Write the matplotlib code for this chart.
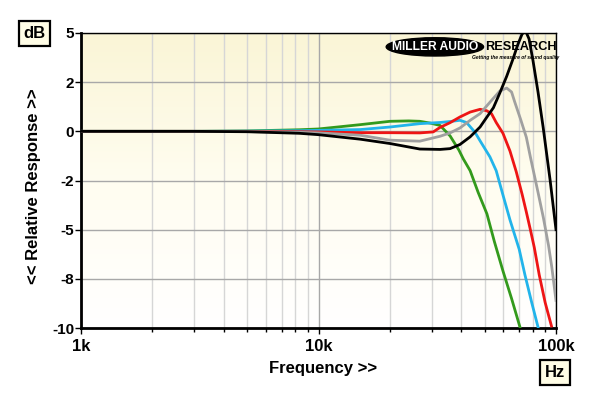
"""
Relative response vs frequency, five curves (Miller Audio Research style)
"""

import numpy as np
import matplotlib
matplotlib.use("Agg")
import matplotlib.pyplot as plt
from matplotlib.colors import LinearSegmentedColormap
from matplotlib.patches import Ellipse

plt.rcParams["font.family"] = ["Liberation Sans", "DejaVu Sans"]
plt.rcParams["font.weight"] = "bold"

# values (Hz, dB)
green_f = [1000, 3000, 5000, 8300, 10000, 15000, 20000, 24000, 26700, 29500,
           32500, 35800, 39000, 40700, 43500, 47000, 51200, 55000, 59800,
           65000, 70500]
green_db = [0, 0, 0.02, 0.08, 0.12, 0.34, 0.51, 0.53, 0.51, 0.42,
            0.3, -0.23, -0.95, -1.4, -2.0, -3.1, -4.2, -5.6, -7.1,
            -8.5, -9.95]

cyan_f = [1000, 3000, 5000, 8300, 10000, 15000, 20000, 26700, 32500, 35800,
          39400, 42000, 45600, 48000, 52700, 56000, 60000, 64000, 70000,
          74000, 79000, 84200]
cyan_db = [0, 0, 0.01, 0.03, 0.05, 0.09, 0.22, 0.39, 0.45, 0.5,
           0.56, 0.45, -0.05, -0.5, -1.3, -2.0, -3.3, -4.5, -6.0,
           -7.3, -8.7, -10]

red_f = [1000, 3000, 5000, 8300, 10000, 15000, 20000, 26700, 30400, 32500,
         35800, 39400, 43500, 47900, 51000, 53500, 56000, 59800, 64000,
         68000, 72000, 75000, 78000, 81000, 85000, 90000, 95700]
red_db = [0, 0, 0, -0.02, -0.03, -0.07, -0.07, -0.08, -0.03, 0.2,
          0.44, 0.73, 0.98, 1.12, 1.05, 0.9, 0.45, -0.1, -1.0,
          -2.05, -3.2, -4.1, -5.0, -5.9, -7.3, -8.7, -9.9]

gray_f = [1000, 3000, 5000, 8300, 10000, 15000, 20000, 26700, 32500, 35800,
          39400, 43500, 47900, 52700, 58000, 62000, 65000, 67000, 71000,
          75000, 78000, 84000, 88500, 93000, 96000, 100000]
gray_db = [0, 0, -0.01, -0.05, -0.08, -0.2, -0.45, -0.5, -0.25, -0.08,
           0.17, 0.56, 0.9, 1.48, 2.05, 2.2, 2.0, 1.5, 0.6,
           -0.3, -1.3, -3.1, -4.4, -5.8, -6.9, -8.6]

black_f = [1000, 3000, 5000, 8300, 10000, 15000, 20000, 26700, 32500, 35800,
           39400, 43500, 47900, 51000, 54500, 58000, 62000, 66000, 69000,
           72000, 74500, 77000, 80000, 84000, 88300, 94500, 100000]
black_db = [0, 0, -0.02, -0.1, -0.17, -0.4, -0.62, -0.9, -0.92, -0.88,
            -0.67, -0.28, 0.22, 0.7, 1.2, 1.95, 2.8, 3.7, 4.4,
            4.95, 5.1, 4.7, 3.6, 2.0, 0.2, -2.5, -5.0]

y_ticks = [-10, -7.5, -5, -2.5, 0, 2.5, 5]
y_labels = ["-10", "-8", "-5", "-2", "0", "2", "5"]
x_ticks = [1e3, 1e4, 1e5]
x_labels = ["1k", "10k", "100k"]

W, H = 600, 404
fig = plt.figure(figsize=(W / 100, H / 100), dpi=100)
rect = [81 / W, 1 - 328 / H, 475 / W, 295 / H]

# cream-to-white background
bg = fig.add_axes(rect, zorder=0)
cmap = LinearSegmentedColormap.from_list("bg", ["#FFFFFF", "#FFFDF0", "#FAF5D6"])
bg.imshow(np.linspace(0, 1, 256).reshape(-1, 1), cmap=cmap, aspect="auto",
          origin="lower", extent=[0, 1, 0, 1])
bg.axis("off")

ax = fig.add_axes(rect, zorder=1)
ax.patch.set_alpha(0)
ax.set_xscale("log")
ax.set_xlim(1e3, 1e5)
ax.set_ylim(-10, 5)

ax.set_yticks(y_ticks)
ax.set_yticklabels(y_labels)
ax.set_xticks(x_ticks)
ax.set_xticklabels(x_labels)
minors = [m * d for d in (1e3, 1e4) for m in range(2, 10)]
ax.set_xticks(minors, minor=True)
ax.tick_params(axis="y", length=4, width=1, pad=1, labelsize=11)
ax.tick_params(axis="x", which="major", length=4, width=1, pad=4, labelsize=12)
ax.tick_params(axis="x", which="minor", length=3, width=1)

ax.grid(axis="y", which="major", color="#a8a8a8", lw=1)
ax.grid(axis="x", which="minor", color="#d6d6d6", lw=1)
ax.grid(axis="x", which="major", color="#a8a8a8", lw=1)
ax.set_axisbelow(True)

for s in ("left", "bottom"):
    ax.spines[s].set_linewidth(2)
for s in ("top", "right"):
    ax.spines[s].set_linewidth(1)

# logo
ax.add_patch(Ellipse((0.745, 0.953), 0.205, 0.062, transform=ax.transAxes,
                     color="black", zorder=2))
ax.text(0.745, 0.953, "MILLER AUDIO", transform=ax.transAxes, color="white",
        fontsize=8.7, ha="center", va="center", zorder=2.1)
ax.text(0.927, 0.953, "RESEARCH", transform=ax.transAxes, color="black",
        fontsize=9.2, ha="center", va="center", zorder=2.1)
ax.text(0.915, 0.918, "Getting the measure of sound quality", transform=ax.transAxes,
        color="black", fontsize=3.6, style="italic", ha="center", va="center",
        zorder=2.1)

lw = 2.0
ax.plot(green_f, green_db, color="#339A1C", lw=lw, zorder=3)
ax.plot(cyan_f, cyan_db, color="#22B4EA", lw=lw, zorder=3)
ax.plot(red_f, red_db, color="#EE1515", lw=lw, zorder=3)
ax.plot(gray_f, gray_db, color="#A0A0A0", lw=lw, zorder=3)
ax.plot(black_f, black_db, color="black", lw=lw, zorder=3)

fig.text(323 / W, 1 - 369 / H, "Frequency >>", ha="center", va="center", fontsize=12)
fig.text(34 / W, 1 - 186 / H, "<< Relative Response >>", ha="center", va="center",
         rotation=90, fontsize=12)
box = dict(boxstyle="square,pad=0.28", fc="#FFFDE6", ec="black", lw=1.6)
fig.text(34.5 / W, 1 - 33.5 / H, "dB", ha="center", va="center", fontsize=12, bbox=box)
fig.text(555 / W, 1 - 372.5 / H, "Hz", ha="center", va="center", fontsize=12, bbox=box)

fig.savefig("out.png", dpi=100, facecolor="white")
